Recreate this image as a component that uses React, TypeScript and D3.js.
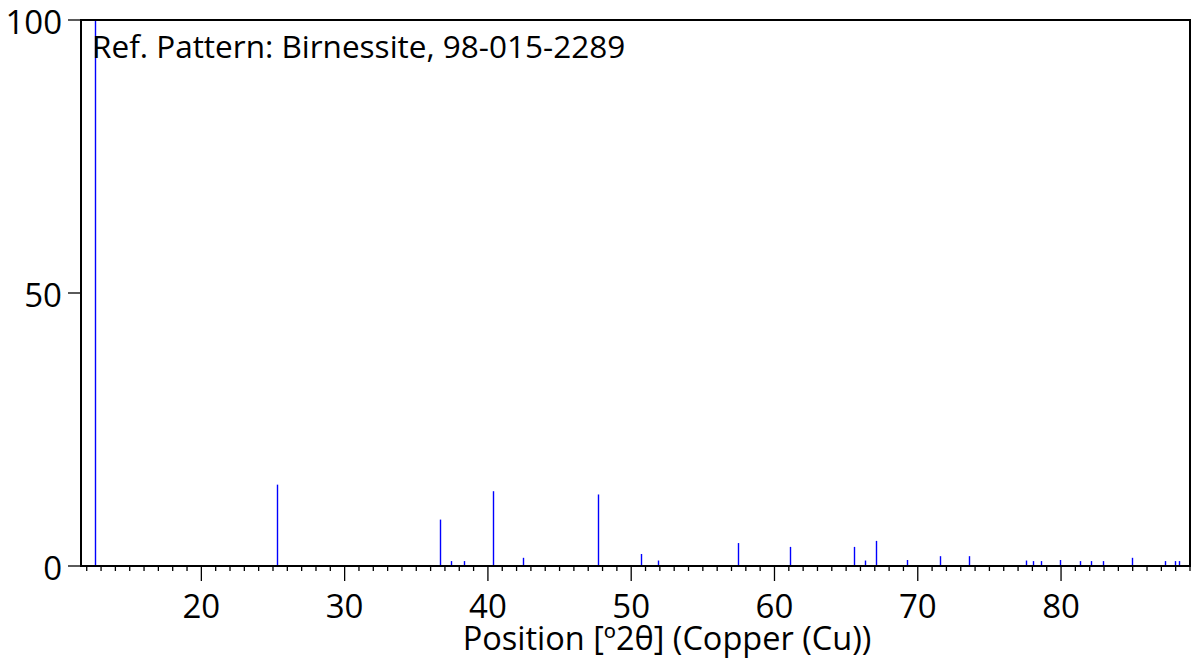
import React, { useEffect, useRef } from 'react';
import * as d3 from 'd3';

// Reference pattern peaks (position in deg 2-theta, relative intensity)
const positions = [
    12.6, 25.29, 36.68, 37.45, 38.31, 40.33, 42.44, 47.65, 50.67, 51.9,
    57.46, 61.11, 65.57, 66.31, 67.08, 69.22, 71.53, 73.56, 77.58, 78.02,
    78.63, 79.95, 81.3, 82.09, 82.95, 84.97, 87.28, 87.93, 88.26
];
const intensities = [
    100, 14.9, 8.5, 0.9, 0.9, 13.7, 1.5, 13.1, 2.2, 1.0,
    4.2, 3.5, 3.5, 1.0, 4.6, 1.1, 1.8, 1.8, 1.0, 0.9,
    0.9, 1.1, 0.9, 0.9, 0.9, 1.5, 0.9, 0.9, 0.9
];
const xMajorTicks = [20, 30, 40, 50, 60, 70, 80];
const yTicks = [0, 50, 100];
const title = 'Ref. Pattern: Birnessite, 98-015-2289';
const xLabel = 'Position [º2θ] (Copper (Cu))';

export default function App() {
    const svgRef = useRef<SVGSVGElement>(null);

    useEffect(() => {
        const W = 1196, H = 664;
        const margin = { top: 20, right: 6, bottom: 98, left: 81 };
        const width = W - margin.left - margin.right;
        const height = H - margin.top - margin.bottom;
        const font = '"Open Sans", "Noto Sans", sans-serif';

        d3.select(svgRef.current).selectAll('*').remove();

        const svg = d3.select(svgRef.current)
            .attr('width', W)
            .attr('height', H)
            .append('g')
            .attr('transform', `translate(${margin.left},${margin.top})`);

        const x = d3.scaleLinear().domain([11.6, 89.0]).range([0, width]);
        const y = d3.scaleLinear().domain([0, 100]).range([height, 0]);

        // peaks
        svg.append('g')
            .selectAll('line')
            .data(positions.map((p, i) => ({ p, v: intensities[i] })))
            .join('line')
            .attr('x1', d => Math.round(x(d.p)) + 0.5)
            .attr('x2', d => Math.round(x(d.p)) + 0.5)
            .attr('y1', y(0))
            .attr('y2', d => y(d.v))
            .attr('stroke', '#0000ff')
            .attr('stroke-width', 1.4);

        // frame
        svg.append('rect')
            .attr('x', 0).attr('y', 0)
            .attr('width', width).attr('height', height)
            .attr('fill', 'none')
            .attr('stroke', '#000')
            .attr('stroke-width', 2);

        // x axis: minor every degree, major every 10
        const minor = d3.range(12, 90, 1).filter(v => v % 10 !== 0);
        const xAxis = svg.append('g').attr('transform', `translate(0,${height})`);
        xAxis.selectAll('line.minor')
            .data(minor)
            .join('line')
            .attr('class', 'minor')
            .attr('x1', d => x(d)).attr('x2', d => x(d))
            .attr('y1', 0).attr('y2', 5)
            .attr('stroke', '#000').attr('stroke-width', 1.3);
        xAxis.selectAll('line.major')
            .data(xMajorTicks)
            .join('line')
            .attr('class', 'major')
            .attr('x1', d => x(d)).attr('x2', d => x(d))
            .attr('y1', 0).attr('y2', 15)
            .attr('stroke', '#000').attr('stroke-width', 1.3);
        xAxis.selectAll('text')
            .data(xMajorTicks)
            .join('text')
            .attr('x', d => x(d))
            .attr('y', 52)
            .attr('text-anchor', 'middle')
            .attr('font-family', font)
            .attr('font-size', 33)
            .text(d => d);

        // y axis ticks
        const yAxis = svg.append('g');
        yAxis.selectAll('line')
            .data(yTicks)
            .join('line')
            .attr('x1', -13).attr('x2', 0)
            .attr('y1', d => y(d)).attr('y2', d => y(d))
            .attr('stroke', '#000').attr('stroke-width', 1.3);
        yAxis.selectAll('text')
            .data(yTicks)
            .join('text')
            .attr('x', -19)
            .attr('y', d => y(d))
            .attr('dy', '0.43em')
            .attr('text-anchor', 'end')
            .attr('font-family', font)
            .attr('font-size', 33)
            .text(d => d);

        // x label
        svg.append('text')
            .attr('x', (462 + 872) / 2 - margin.left)
            .attr('y', height + 84)
            .attr('text-anchor', 'middle')
            .attr('font-family', font)
            .attr('font-size', 32.5)
            .text(xLabel);

        // title
        svg.append('text')
            .attr('x', 11)
            .attr('y', 38)
            .attr('font-family', font)
            .attr('font-size', 31.5)
            .text(title);
    }, []);

    return (
        <div style={{ position: 'absolute', left: 0, top: 0 }}>
            <svg ref={svgRef} style={{ display: 'block' }}></svg>
        </div>
    );
}
